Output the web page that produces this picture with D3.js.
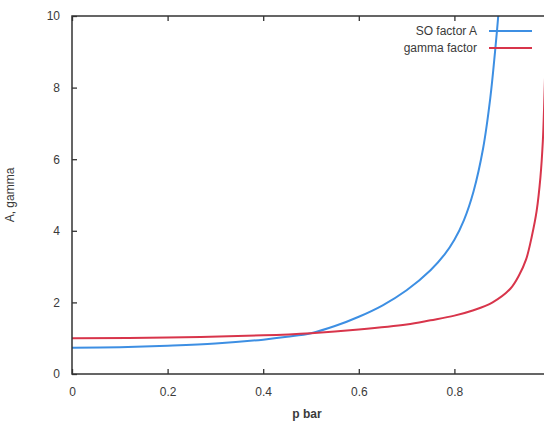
<!DOCTYPE html>
<html>
<head>
<meta charset="utf-8">
<script src="https://cdn.jsdelivr.net/npm/d3@7"></script>
<style>
  body { margin: 0; background: #fff; }
  text { font-family: "Liberation Sans", Arial, sans-serif; fill: #3a3a3a; }
</style>
</head>
<body>
<svg id="chart"></svg>
<script>
const width = 544;
const height = 427;

// values
const soP = [0, 0.1, 0.2, 0.3, 0.4, 0.45, 0.5, 0.55, 0.6, 0.65, 0.7, 0.75, 0.78, 0.8, 0.82, 0.84, 0.86, 0.875, 0.885, 0.893, 0.9];
const soA = [0.73, 0.75, 0.79, 0.85, 0.96, 1.04, 1.14, 1.34, 1.6, 1.92, 2.34, 2.9, 3.35, 3.75, 4.3, 5.1, 6.3, 7.7, 9.0, 10.2, 11.5];

const gamP = [0, 0.2, 0.4, 0.5, 0.6, 0.7, 0.75, 0.8, 0.84, 0.88, 0.917, 0.935, 0.95, 0.962, 0.972, 0.98, 0.985, 0.988, 0.992, 0.995];
const gamV = [1.0, 1.02, 1.08, 1.14, 1.24, 1.38, 1.5, 1.63, 1.78, 2.0, 2.38, 2.75, 3.2, 3.85, 4.55, 5.5, 6.5, 7.6, 9.4, 11.5];

const xTicks = [0, 0.2, 0.4, 0.6, 0.8, 1];
const xTickLabels = ["0", "0.2", "0.4", "0.6", "0.8", ""];
const yTicks = [0, 2, 4, 6, 8, 10];
const xLabel = "p bar";
const yLabel = "A, gamma";
const legendNames = ["SO factor A", "gamma factor"];
const colors = ["#3d8fe3", "#d8354b"];

const pLeft = 72, pRight = 550, pTop = 16, pBottom = 374;

const x = d3.scaleLinear().domain([0, 1]).range([pLeft, pRight]);
const y = d3.scaleLinear().domain([0, 10]).range([pBottom, pTop]);

const svg = d3.select("#chart")
  .attr("width", width)
  .attr("height", height);

svg.append("defs").append("clipPath").attr("id", "plot")
  .append("rect")
  .attr("x", pLeft).attr("y", pTop)
  .attr("width", pRight - pLeft).attr("height", pBottom - pTop);

const line = d3.line()
  .x(d => x(d[0]))
  .y(d => y(d[1]))
  .curve(d3.curveCatmullRom.alpha(0.5));

const series = [
  soP.map((p, i) => [p, soA[i]]),
  gamP.map((p, i) => [p, gamV[i]])
];

const g = svg.append("g").attr("clip-path", "url(#plot)");
series.forEach((s, i) => {
  g.append("path")
    .datum(s)
    .attr("fill", "none")
    .attr("stroke", colors[i])
    .attr("stroke-width", 2)
    .attr("d", line);
});

// axes, ticks pointing inwards like gnuplot
svg.append("g")
  .attr("transform", `translate(0,${pBottom})`)
  .call(d3.axisBottom(x).tickValues(xTicks).tickSize(-5).tickPadding(13)
    .tickFormat((d, i) => xTickLabels[i]))
  .call(a => a.select(".domain").remove());

svg.append("g")
  .attr("transform", `translate(0,${pTop})`)
  .call(d3.axisTop(x).tickValues(xTicks).tickSize(-5).tickFormat(""))
  .call(a => a.select(".domain").remove());

svg.append("g")
  .attr("transform", `translate(${pLeft},0)`)
  .call(d3.axisLeft(y).tickValues(yTicks).tickSize(-5).tickPadding(12))
  .call(a => a.select(".domain").remove());

svg.selectAll(".tick line").attr("stroke", "#333").attr("stroke-width", 1.3);
svg.selectAll(".tick text")
  .style("font-size", "12px")
  .attr("fill", "#3a3a3a");

svg.append("rect")
  .attr("x", pLeft).attr("y", pTop)
  .attr("width", pRight - pLeft).attr("height", pBottom - pTop)
  .attr("fill", "none")
  .attr("stroke", "#333")
  .attr("stroke-width", 1.5);

// axis titles
svg.append("text")
  .attr("x", 307).attr("y", 418)
  .attr("text-anchor", "middle")
  .style("font-size", "12px")
  .style("font-weight", "bold")
  .text(xLabel);

svg.append("text")
  .attr("transform", `translate(14,${(pTop + pBottom) / 2}) rotate(-90)`)
  .attr("text-anchor", "middle")
  .style("font-size", "12px")
  .text(yLabel);

// legend
legendNames.forEach((name, i) => {
  const ly = 31 + i * 17;
  svg.append("text")
    .attr("x", 477).attr("y", ly + 4)
    .attr("text-anchor", "end")
    .style("font-size", "12px")
    .text(name);
  svg.append("line")
    .attr("x1", 489).attr("x2", 532)
    .attr("y1", ly).attr("y2", ly)
    .attr("stroke", colors[i])
    .attr("stroke-width", 2);
});
</script>
</body>
</html>
